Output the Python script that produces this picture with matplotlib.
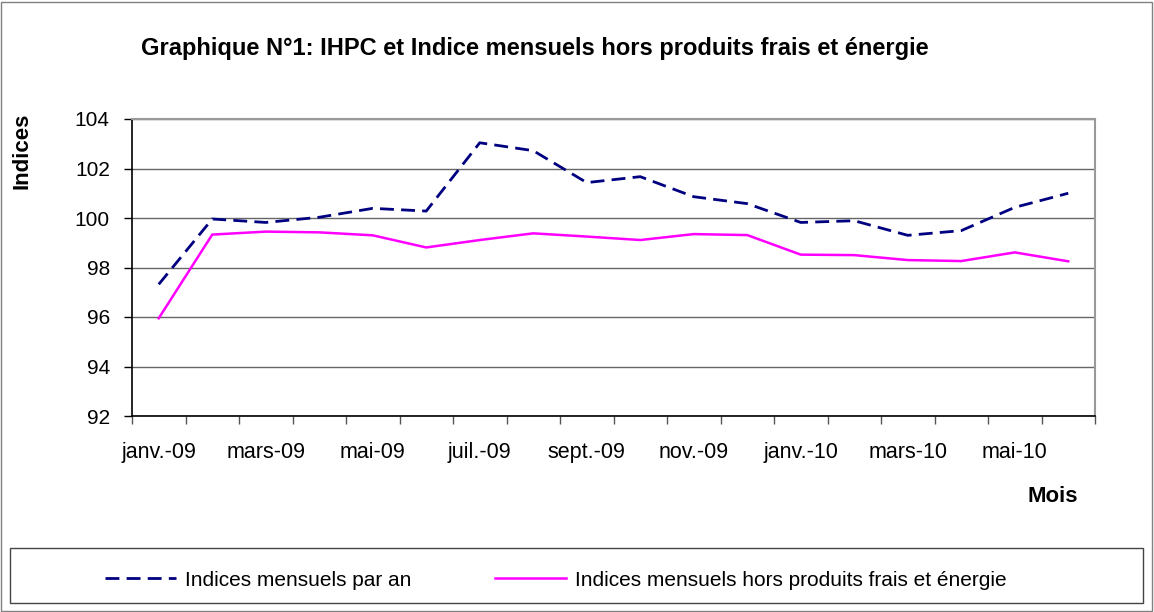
import matplotlib.pyplot as plt
from matplotlib.patches import Rectangle

plt.rcParams['font.family'] = ['Liberation Sans', 'DejaVu Sans']

# months janv.-09 .. juin-10
mois = ["janv.-09", "févr.-09", "mars-09", "avr.-09", "mai-09", "juin-09",
        "juil.-09", "août-09", "sept.-09", "oct.-09", "nov.-09", "déc.-09",
        "janv.-10", "févr.-10", "mars-10", "avr.-10", "mai-10", "juin-10"]
ihpc = [97.32, 99.96, 99.82, 100.03, 100.39, 100.28, 103.04, 102.72, 101.43,
        101.67, 100.86, 100.58, 99.82, 99.89, 99.30, 99.49, 100.43, 101.0]
hors_frais = [95.95, 99.33, 99.45, 99.42, 99.30, 98.81, 99.11, 99.38, 99.25,
              99.11, 99.35, 99.31, 98.52, 98.50, 98.30, 98.26, 98.61, 98.25]
y_ticks = [92, 94, 96, 98, 100, 102, 104]

W, H = 1154, 612
fig = plt.figure(figsize=(W / 100, H / 100), dpi=100)
fig.patch.set_facecolor("white")
# outer frame of the chart
fig.add_artist(Rectangle((1 / W, 1 / H), 1 - 3 / W, 1 - 3 / H, transform=fig.transFigure,
                         fill=False, edgecolor="#808080", linewidth=1))

ax = fig.add_axes([132 / W, 1 - 416 / H, (1095 - 132) / W, (416 - 119) / H])
x = list(range(len(mois)))
ax.plot(x, ihpc, color="#000080", linewidth=2, linestyle=(0, (5, 2.6)),
        label="Indices mensuels par an")
ax.plot(x, hors_frais, color="#FF00FF", linewidth=1.8,
        label="Indices mensuels hors produits frais et énergie")

ax.set_xlim(-0.5, len(mois) - 0.5)
ax.set_ylim(92, 104)
ax.set_yticks(y_ticks)
ax.set_yticklabels([str(v) for v in y_ticks], fontsize=15)
ax.grid(axis="y", color="#666666", linewidth=1)
ax.set_axisbelow(True)

# category boundaries as tick marks, labels every second month
ax.set_xticks([i - 0.5 for i in range(len(mois) + 1)])
ax.set_xticklabels([])
ax.set_xticks(x[::2], minor=True)
ax.set_xticklabels(mois[::2], minor=True, fontsize=15.5)
ax.tick_params(axis="x", which="major", length=6, width=1, color="#555555")
ax.tick_params(axis="x", which="minor", length=0, pad=19)
ax.tick_params(axis="y", length=6, width=1, pad=10)

for side in ["left", "bottom"]:
    ax.spines[side].set_color("black")
    ax.spines[side].set_linewidth(1.2)
for side in ["top", "right"]:
    ax.spines[side].set_color("#999999")
    ax.spines[side].set_linewidth(1.5)

fig.text(535 / W, 1 - 48 / H, "Graphique N°1: IHPC et Indice mensuels hors produits frais et énergie",
         ha="center", va="center", fontsize=17, fontweight="bold")
fig.text(22 / W, 1 - 151 / H, "Indices", rotation=90, ha="center", va="center",
         fontsize=16, fontweight="bold")
fig.text(1053 / W, 1 - 497 / H, "Mois", ha="center", va="center",
         fontsize=16, fontweight="bold")

# legend box
fig.add_artist(Rectangle((10 / W, 1 - 603 / H), (1143 - 10) / W, (603 - 548) / H,
                         transform=fig.transFigure, fill=False, edgecolor="#444444", linewidth=1))
fig.legend(loc="center", bbox_to_anchor=(556 / W, 1 - 580 / H), ncol=2, frameon=False,
           fontsize=15, handlelength=3.4, handletextpad=0.45, columnspacing=4.0)

fig.savefig("out.png", dpi=100)
